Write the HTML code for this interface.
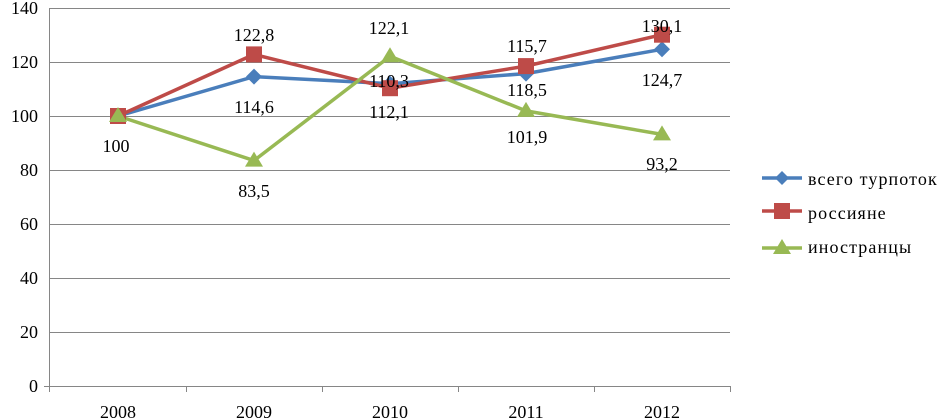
<!DOCTYPE html><html><head><meta charset="utf-8"><style>body{margin:0;background:#fff}svg{display:block}text{font-family:"Liberation Serif",serif;font-size:18px;fill:#000}.lg{letter-spacing:1.1px}</style></head><body>
<svg width="943" height="419" viewBox="0 0 943 419">
<g stroke="#868686" stroke-width="1">
<line x1="50" y1="8.5" x2="730" y2="8.5"/><line x1="50" y1="62.5" x2="730" y2="62.5"/><line x1="50" y1="116.5" x2="730" y2="116.5"/><line x1="50" y1="170.5" x2="730" y2="170.5"/><line x1="50" y1="224.5" x2="730" y2="224.5"/><line x1="50" y1="278.5" x2="730" y2="278.5"/><line x1="50" y1="332.5" x2="730" y2="332.5"/><line x1="50" y1="386.5" x2="730" y2="386.5"/>
<line x1="49.5" y1="8" x2="49.5" y2="392"/><line x1="44" y1="386.5" x2="50" y2="386.5"/>
<line x1="186.5" y1="386" x2="186.5" y2="392"/><line x1="322.5" y1="386" x2="322.5" y2="392"/><line x1="458.5" y1="386" x2="458.5" y2="392"/><line x1="594.5" y1="386" x2="594.5" y2="392"/><line x1="730.5" y1="386" x2="730.5" y2="392"/>
</g>
<g text-anchor="end"><text x="38" y="14">140</text><text x="38" y="68">120</text><text x="38" y="122">100</text><text x="38" y="176">80</text><text x="38" y="230">60</text><text x="38" y="284">40</text><text x="38" y="338">20</text><text x="38" y="392">0</text></g>
<g text-anchor="middle"><text x="118" y="418">2008</text><text x="254" y="418">2009</text><text x="390" y="418">2010</text><text x="526" y="418">2011</text><text x="662" y="418">2012</text></g>
<polyline fill="none" stroke="#4a7ebb" stroke-width="3.5" points="118,116 254,76.6 390,83.7 526,73.6 662,49.3"/>
<polyline fill="none" stroke="#be4b48" stroke-width="3.5" points="118,116 254,54.4 390,88.2 526,66.1 662,34.7"/>
<polyline fill="none" stroke="#98b954" stroke-width="3.5" points="118,116 254,160.6 390,56.3 526,110.9 662,134.4"/>
<g fill="#4a7ebb"><path d="M118,108l8,8-8,8-8-8z"/><path d="M254,68.6l8,8-8,8-8-8z"/><path d="M390,75.7l8,8-8,8-8-8z"/><path d="M526,65.6l8,8-8,8-8-8z"/><path d="M662,41.3l8,8-8,8-8-8z"/></g>
<g fill="#be4b48"><rect x="110" y="108" width="16" height="16"/><rect x="246" y="46.4" width="16" height="16"/><rect x="382" y="80.2" width="16" height="16"/><rect x="518" y="58.1" width="16" height="16"/><rect x="654" y="26.7" width="16" height="16"/></g>
<g fill="#98b954"><path d="M118,107l9,15h-18z"/><path d="M254,151.6l9,15h-18z"/><path d="M390,47.3l9,15h-18z"/><path d="M526,101.9l9,15h-18z"/><path d="M662,125.4l9,15h-18z"/></g>
<g text-anchor="middle">
<text x="116" y="152">100</text>
<text x="254" y="41">122,8</text><text x="254" y="113">114,6</text><text x="254" y="197">83,5</text>
<text x="389" y="34">122,1</text><text x="389" y="87">110,3</text><text x="389" y="118">112,1</text>
<text x="527" y="52">115,7</text><text x="527" y="96">118,5</text><text x="527" y="143">101,9</text>
<text x="662" y="32">130,1</text><text x="662" y="86">124,7</text><text x="662" y="170">93,2</text>
</g>
<line x1="762" y1="178" x2="802" y2="178" stroke="#4a7ebb" stroke-width="3.5"/><path d="M782,171l7,7-7,7-7-7z" fill="#4a7ebb"/>
<line x1="762" y1="211" x2="802" y2="211" stroke="#be4b48" stroke-width="3.5"/><rect x="774" y="203" width="16" height="16" fill="#be4b48"/>
<line x1="762" y1="248" x2="802" y2="248" stroke="#98b954" stroke-width="3.5"/><path d="M782,239l9,15h-18z" fill="#98b954"/>
<text class="lg" x="808" y="185">всего турпоток</text><text class="lg" x="808" y="219">россияне</text><text class="lg" x="808" y="253">иностранцы</text>
</svg></body></html>
